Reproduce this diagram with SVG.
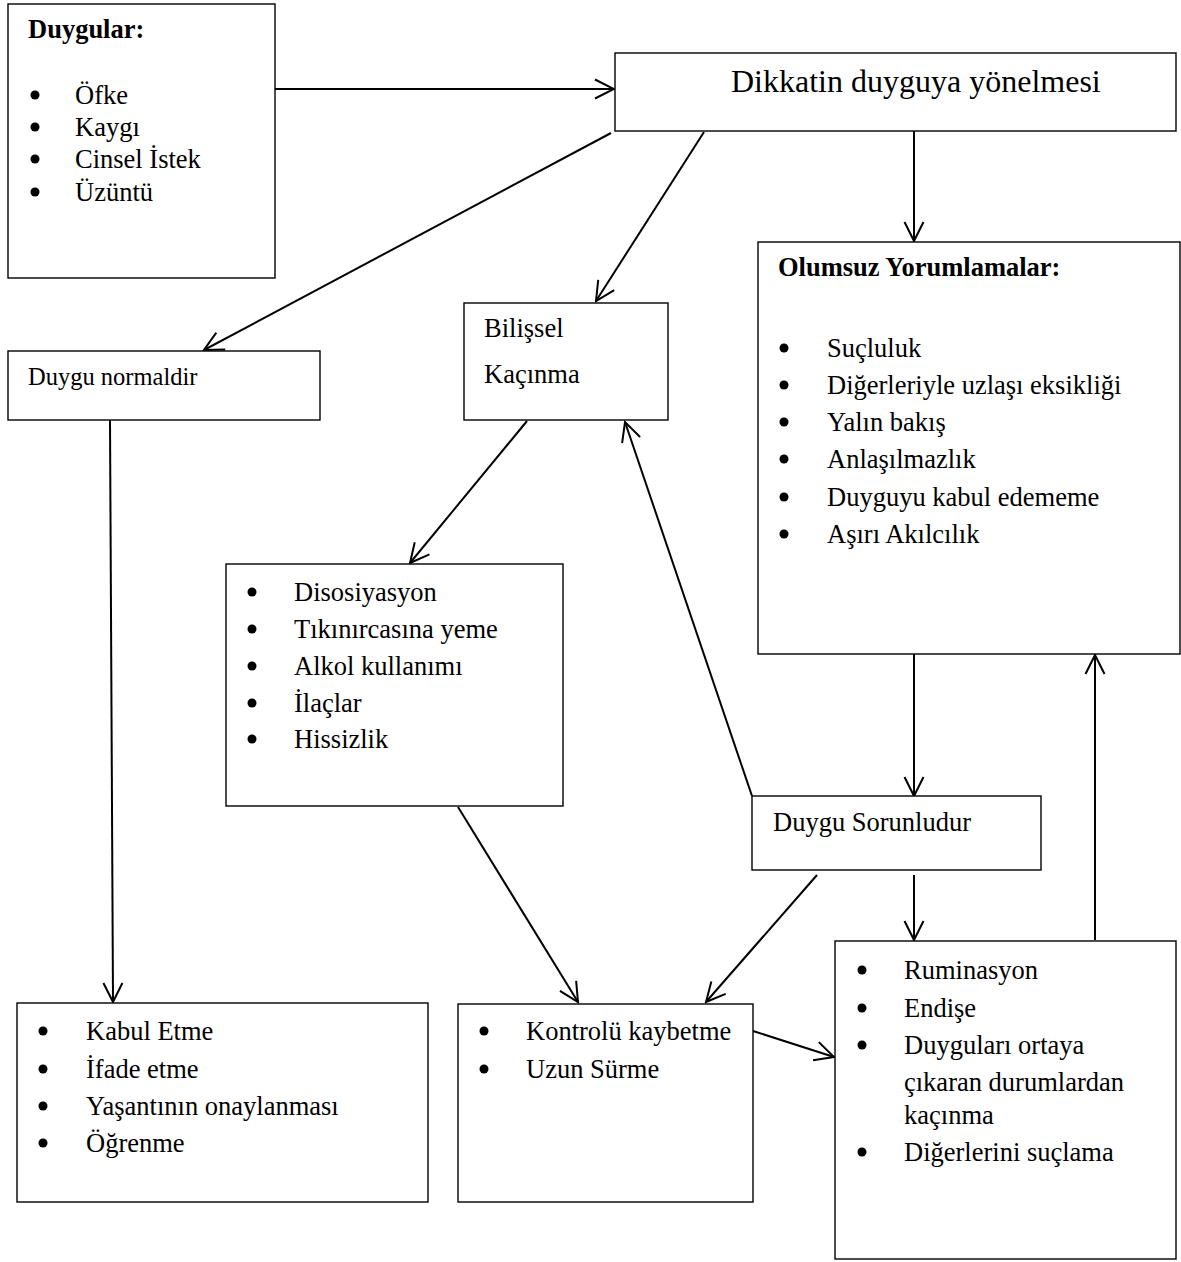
<svg xmlns="http://www.w3.org/2000/svg" width="1181" height="1262" viewBox="0 0 1181 1262">
<style>
  .box { fill: #ffffff; stroke: #000000; stroke-width: 1.4; }
  .t { font-family: "Liberation Serif", "Times New Roman", serif; font-size: 26.5px; fill: #000000; }
  .b { font-weight: bold; }
  .bul { fill: #000000; }
  .con { fill: none; stroke: #000000; stroke-width: 2; marker-end: url(#arr); }
</style>
<defs>
  <marker id="arr" markerUnits="userSpaceOnUse" viewBox="-22 -12 24 24" refX="0" refY="0" markerWidth="24" markerHeight="24" orient="auto">
    <path d="M-19,-9.5 L0,0 L-19,9.5" fill="none" stroke="#000000" stroke-width="2"/>
  </marker>
</defs>
<rect width="1181" height="1262" fill="#ffffff"/>

<g id="connectors">
  <line class="con" x1="275" y1="89" x2="614" y2="89"/>
  <line class="con" x1="611" y1="133" x2="204" y2="350"/>
  <line class="con" x1="704" y1="132" x2="596" y2="301"/>
  <line class="con" x1="914" y1="131" x2="914" y2="241"/>
  <line class="con" x1="110" y1="420" x2="113" y2="1002"/>
  <line class="con" x1="527" y1="421" x2="410" y2="563"/>
  <line class="con" x1="752" y1="796" x2="625" y2="422"/>
  <line class="con" x1="914" y1="654" x2="914" y2="796"/>
  <line class="con" x1="1095" y1="940" x2="1095" y2="655"/>
  <line class="con" x1="914" y1="875" x2="914" y2="940"/>
  <line class="con" x1="458" y1="807" x2="578" y2="1002"/>
  <line class="con" x1="817" y1="875" x2="706" y2="1002"/>
  <line class="con" x1="753" y1="1031" x2="834" y2="1057"/>
</g>

<g id="duygular">
  <rect class="box" x="8" y="4" width="267" height="274"/>
  <text class="t b" x="28" y="38">Duygular:</text>
  <circle class="bul" cx="35" cy="95" r="4.5"/><text class="t" x="75" y="104">Öfke</text>
  <circle class="bul" cx="35" cy="127" r="4.5"/><text class="t" x="75" y="136">Kaygı</text>
  <circle class="bul" cx="35" cy="159" r="4.5"/><text class="t" x="75" y="168">Cinsel İstek</text>
  <circle class="bul" cx="35" cy="192" r="4.5"/><text class="t" x="75" y="201">Üzüntü</text>
</g>

<g id="dikkatin">
  <rect class="box" x="615" y="53" width="561" height="78"/>
  <text class="t" x="731" y="92" style="font-size:32px">Dikkatin duyguya yönelmesi</text>
</g>

<g id="duygu-normaldir">
  <rect class="box" x="8" y="351" width="312" height="69"/>
  <text class="t" x="28" y="385" style="font-size:24.5px">Duygu normaldir</text>
</g>

<g id="bilissel-kacinma">
  <rect class="box" x="464" y="303" width="204" height="117"/>
  <text class="t" x="484" y="337">Bilişsel</text>
  <text class="t" x="484" y="383">Kaçınma</text>
</g>

<g id="olumsuz-yorumlamalar">
  <rect class="box" x="758" y="242" width="422" height="412"/>
  <text class="t b" x="778" y="276">Olumsuz Yorumlamalar:</text>
  <circle class="bul" cx="784" cy="348" r="4.5"/><text class="t" x="827" y="357">Suçluluk</text>
  <circle class="bul" cx="784" cy="385" r="4.5"/><text class="t" x="827" y="394">Diğerleriyle uzlaşı eksikliği</text>
  <circle class="bul" cx="784" cy="422" r="4.5"/><text class="t" x="827" y="431">Yalın bakış</text>
  <circle class="bul" cx="784" cy="459" r="4.5"/><text class="t" x="827" y="468">Anlaşılmazlık</text>
  <circle class="bul" cx="784" cy="497" r="4.5"/><text class="t" x="827" y="506">Duyguyu kabul edememe</text>
  <circle class="bul" cx="784" cy="534" r="4.5"/><text class="t" x="827" y="543">Aşırı Akılcılık</text>
</g>

<g id="kacinma-davranislari">
  <rect class="box" x="226" y="564" width="337" height="242"/>
  <circle class="bul" cx="252" cy="592" r="4.5"/><text class="t" x="294" y="601">Disosiyasyon</text>
  <circle class="bul" cx="252" cy="629" r="4.5"/><text class="t" x="294" y="638">Tıkınırcasına yeme</text>
  <circle class="bul" cx="252" cy="666" r="4.5"/><text class="t" x="294" y="675">Alkol kullanımı</text>
  <circle class="bul" cx="252" cy="703" r="4.5"/><text class="t" x="294" y="712">İlaçlar</text>
  <circle class="bul" cx="252" cy="739" r="4.5"/><text class="t" x="294" y="748">Hissizlik</text>
</g>

<g id="duygu-sorunludur">
  <rect class="box" x="752" y="796" width="289" height="74"/>
  <text class="t" x="773" y="831">Duygu Sorunludur</text>
</g>

<g id="kabul-etme">
  <rect class="box" x="17" y="1003" width="411" height="199"/>
  <circle class="bul" cx="43" cy="1031" r="4.5"/><text class="t" x="86" y="1040">Kabul Etme</text>
  <circle class="bul" cx="43" cy="1069" r="4.5"/><text class="t" x="86" y="1078">İfade etme</text>
  <circle class="bul" cx="43" cy="1106" r="4.5"/><text class="t" x="86" y="1115">Yaşantının onaylanması</text>
  <circle class="bul" cx="43" cy="1143" r="4.5"/><text class="t" x="86" y="1152">Öğrenme</text>
</g>

<g id="kontrolu-kaybetme">
  <rect class="box" x="458" y="1004" width="295" height="198"/>
  <circle class="bul" cx="484" cy="1031" r="4.5"/><text class="t" x="526" y="1040">Kontrolü kaybetme</text>
  <circle class="bul" cx="484" cy="1069" r="4.5"/><text class="t" x="526" y="1078">Uzun Sürme</text>
</g>

<g id="ruminasyon">
  <rect class="box" x="835" y="941" width="341" height="318"/>
  <circle class="bul" cx="862" cy="970" r="4.5"/><text class="t" x="904" y="979">Ruminasyon</text>
  <circle class="bul" cx="862" cy="1008" r="4.5"/><text class="t" x="904" y="1017">Endişe</text>
  <circle class="bul" cx="862" cy="1045" r="4.5"/><text class="t" x="904" y="1054">Duyguları ortaya</text>
  <text class="t" x="904" y="1091">çıkaran durumlardan</text>
  <text class="t" x="904" y="1124">kaçınma</text>
  <circle class="bul" cx="862" cy="1152" r="4.5"/><text class="t" x="904" y="1161">Diğerlerini suçlama</text>
</g>
</svg>
